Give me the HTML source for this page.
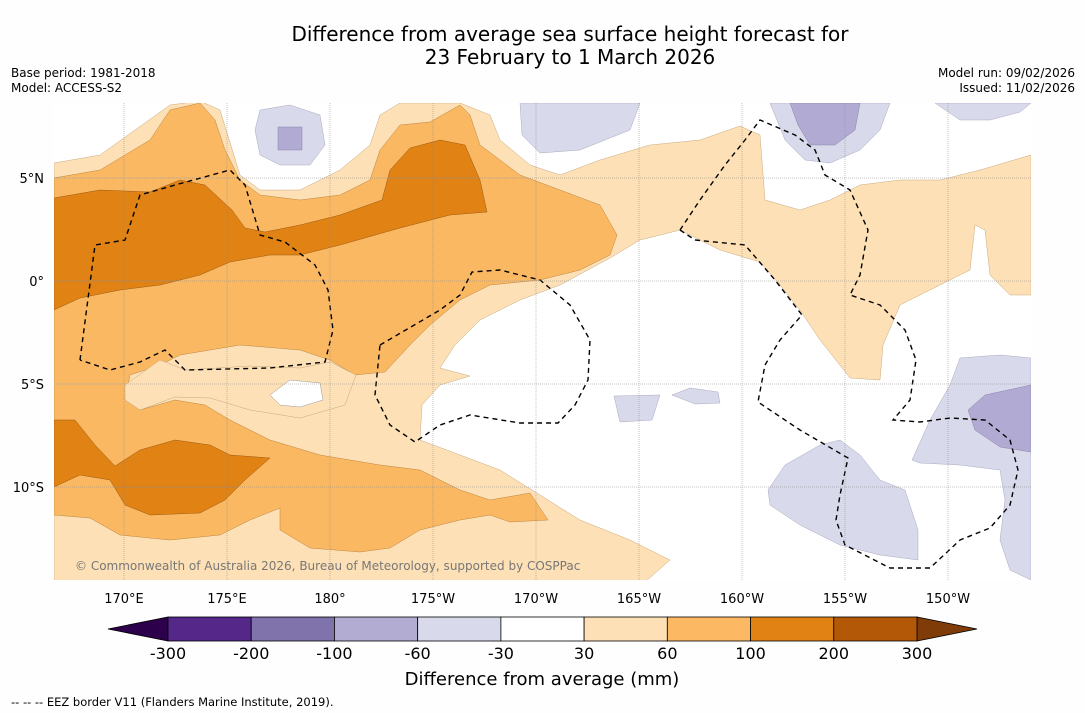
<!DOCTYPE html>
<html><head><meta charset="utf-8">
<style>
body{margin:0;background:#fff;font-family:"DejaVu Sans","Liberation Sans",sans-serif;}
svg{display:block}
</style></head>
<body>
<svg id="chart" width="1085" height="713" viewBox="0 0 1085 713" xmlns="http://www.w3.org/2000/svg" font-family="DejaVu Sans, Liberation Sans, sans-serif">
<rect x="0" y="0" width="1085" height="713" fill="#fefefe"/>
<text x="570" y="41" font-size="20" text-anchor="middle" fill="#000">Difference from average sea surface height forecast for</text>
<text x="570" y="64" font-size="20" text-anchor="middle" fill="#000">23 February to 1 March 2026</text>
<text x="11" y="77" font-size="12">Base period: 1981-2018</text>
<text x="11" y="92" font-size="12">Model: ACCESS-S2</text>
<text x="1075" y="77" font-size="12" text-anchor="end">Model run: 09/02/2026</text>
<text x="1075" y="92" font-size="12" text-anchor="end">Issued: 11/02/2026</text>
<defs><clipPath id="mapclip"><rect x="54" y="103" width="977" height="477"/></clipPath></defs>
<g id="map" clip-path="url(#mapclip)"></g>
<g id="axes"></g>
<g id="cbar"></g>
<text x="542" y="685" font-size="18" text-anchor="middle">Difference from average (mm)</text>
<text x="11" y="706" font-size="11.5">--  --  -- EEZ border V11 (Flanders Marine Institute, 2019).</text>
</svg>
<script>
// Axis tick data
const lonTicks = [170, 175, 180, 185, 190, 195, 200, 205, 210];
const lonLabels = ["170°E","175°E","180°","175°W","170°W","165°W","160°W","155°W","150°W"];
const latTicks = [5, 0, -5, -10];
const latLabels = ["5°N","0°","5°S","10°S"];
// Colorbar data
const cbarLevels = ["-300","-200","-100","-60","-30","30","60","100","200","300"];
const cbarColors = ["#542788","#8073ac","#b2abd2","#d8daeb","#ffffff","#fee0b6","#fdb863","#e08214","#b35806"];
const cbarUnder = "#2d004b", cbarOver = "#7f3b08";

const xLon = lon => 124 + (lon - 170) * 20.6;
const yLat = lat => 281 - lat * 20.6;
const NS = "http://www.w3.org/2000/svg";
function mk(tag, attrs, parent){const e=document.createElementNS(NS,tag);for(const k in attrs)e.setAttribute(k,attrs[k]);parent.appendChild(e);return e;}

// Contour shapes (map-space outlines)
const lightOrange = [[54,163],[100,155],[170,105],[200,101],[220,110],[240,175],[260,190],[300,190],[340,170],[370,145],[380,115],[400,103],[460,103],[490,115],[500,140],[530,165],[560,175],[600,160],[650,145],[700,140],[740,126],[760,135],[765,200],[800,210],[830,200],[860,185],[900,180],[940,180],[980,170],[1031,155],[1031,295],[1010,295],[990,275],[985,230],[975,225],[970,270],[940,285],[900,305],[883,345],[880,380],[850,378],[820,340],[800,310],[780,285],[760,262],[720,250],[680,230],[640,240],[610,258],[560,285],[520,300],[480,320],[455,345],[440,368],[470,376],[440,385],[422,405],[420,440],[460,455],[500,470],[540,495],[580,520],[630,540],[670,560],[645,582],[54,582]];
const midOrange = [[54,178],[100,170],[150,140],[170,110],[200,103],[215,120],[225,150],[240,180],[260,195],[300,200],[340,195],[370,180],[380,150],[400,125],[430,122],[460,105],[470,115],[480,145],[500,160],[520,175],[560,190],[600,205],[617,235],[610,255],[580,270],[540,280],[490,285],[460,300],[430,325],[410,345],[385,372],[355,375],[330,360],[300,350],[240,345],[180,355],[160,365],[130,375],[125,400],[140,410],[175,400],[205,405],[230,420],[270,440],[320,455],[380,465],[420,470],[460,490],[490,500],[530,493],[548,520],[510,522],[490,515],[460,520],[420,530],[390,548],[360,552],[310,548],[280,530],[280,508],[250,520],[220,535],[170,540],[120,535],[90,518],[54,515]];
const lightBlob = [[125,385],[160,360],[185,370],[250,366],[300,368],[330,362],[356,375],[345,405],[300,418],[250,410],[210,398],[175,397],[140,410],[125,400]];
const whiteHole = [[270,395],[290,380],[320,383],[323,400],[300,407],[280,405]];
const darkA = [[54,310],[80,298],[120,290],[160,285],[200,275],[230,262],[270,255],[300,255],[340,245],[400,228],[450,215],[487,212],[480,180],[465,145],[440,140],[410,148],[390,170],[382,200],[340,215],[300,225],[265,232],[245,228],[232,210],[205,185],[180,180],[150,192],[100,190],[54,198]];
const darkB = [[54,420],[75,420],[95,445],[115,466],[140,450],[175,440],[210,445],[230,455],[270,458],[245,480],[225,500],[200,513],[150,515],[125,505],[110,480],[80,475],[54,487]];
const lightPurple = [
 [[255,130],[260,110],[290,105],[320,115],[325,145],[310,165],[280,165],[260,155]],
 [[520,103],[640,103],[630,130],[605,140],[580,150],[540,153],[522,135]],
 [[770,103],[890,103],[880,130],[860,150],[830,163],[805,160],[785,140]],
 [[935,103],[1031,103],[1020,112],[990,120],[960,120]],
 [[614,396],[660,395],[652,420],[620,422]],
 [[672,395],[690,388],[718,392],[720,403],[695,404]],
 [[768,490],[785,465],[820,445],[840,440],[860,455],[880,480],[905,490],[918,530],[918,560],[880,555],[840,545],[800,525],[770,505]],
 [[912,460],[930,420],[950,385],[960,358],[1000,355],[1031,358],[1031,580],[1010,570],[1000,540],[1005,500],[1000,470],[960,465],[920,463]]
];
const midPurple = [
 [[278,127],[302,127],[302,150],[278,150]],
 [[790,103],[860,103],[855,130],[835,145],[810,145],[798,125]],
 [[968,410],[985,395],[1031,385],[1031,452],[1000,447],[975,430]]
];
const eezLines = [
 [[80,360],[95,245],[125,240],[140,195],[175,185],[230,170],[245,185],[260,235],[285,242],[315,265],[328,290],[333,330],[325,362],[270,368],[185,370],[165,350],[140,362],[110,370],[80,360]],
 [[380,345],[440,310],[460,295],[472,272],[500,270],[540,280],[570,305],[590,340],[588,380],[575,405],[558,423],[520,423],[470,415],[440,425],[415,442],[390,425],[375,395],[380,345]],
 [[680,230],[695,240],[745,245],[775,280],[802,315],[780,340],[765,365],[758,402],[800,430],[848,458],[840,495],[836,520],[845,545],[890,568],[930,568],[960,540],[990,528],[1010,505],[1018,470],[1010,440],[985,420],[950,418],[920,422],[893,420],[910,400],[916,360],[905,330],[880,305],[850,295],[860,275],[868,230],[850,190],[825,175],[815,150],[795,135],[760,120],[745,140],[725,165],[700,200],[680,230]]
];

const map = document.getElementById('map');
const pts = a => a.map(p => p.join(',')).join(' ');
let e;
e = mk('rect',{x:54,y:103,width:977,height:477,fill:'#ffffff'},map);


e = mk('polygon',{points:pts(lightOrange),fill:'#fde0b6',stroke:'#c9a97f','stroke-width':0.5},map);


e = mk('polygon',{points:pts(midOrange),fill:'#fbb863',stroke:'#b98640','stroke-width':0.5},map);


e = mk('polygon',{points:pts(lightBlob),fill:'#fde0b6',stroke:'#c9a97f','stroke-width':0.5},map);


e = mk('polygon',{points:pts(whiteHole),fill:'#ffffff',stroke:'#999','stroke-width':0.5},map);


[darkA, darkB].forEach(d => {
  const p = mk('polygon',{points:pts(d),fill:'#e08214',stroke:'#9a5a10','stroke-width':0.5},map);
  
  
});
lightPurple.forEach(d => {
  const p = mk('polygon',{points:pts(d),fill:'#d8d9ea',stroke:'#a9a9c0','stroke-width':0.5},map);
  
  
});
midPurple.forEach(d => {
  const p = mk('polygon',{points:pts(d),fill:'#b1aad2',stroke:'#8a84aa','stroke-width':0.5},map);
  
  
});
eezLines.forEach(d => {
  const p = mk('polyline',{points:pts(d),fill:'none',stroke:'#000','stroke-width':1.4,'stroke-dasharray':'5,4'},map);
  
  
});

// gridlines and ticks
const axes = document.getElementById('axes');
lonTicks.forEach((lon,i) => {
  const x = xLon(lon);
  const g = mk('line',{x1:x,y1:103,x2:x,y2:580,stroke:'#888','stroke-width':0.5,'stroke-dasharray':'1,1'},axes);
  
  
  const t = mk('text',{x:x,y:603,'font-size':13,'text-anchor':'middle'},axes);
  t.textContent = lonLabels[i];
  
  
});
latTicks.forEach((lat,i) => {
  const y = yLat(lat);
  const g = mk('line',{x1:54,y1:y,x2:1031,y2:y,stroke:'#888','stroke-width':0.5,'stroke-dasharray':'1,1'},axes);
  
  
  const t = mk('text',{x:44,y:y+5,'font-size':13,'text-anchor':'end'},axes);
  t.textContent = latLabels[i];
  
  
});
const cp = mk('text',{x:75,y:570,'font-size':12,fill:'#777'},axes);
cp.textContent = '© Commonwealth of Australia 2026, Bureau of Meteorology, supported by COSPPac';



// colorbar
const cbar = document.getElementById('cbar');
const cx0 = 168, cx1 = 917, cy = 617, ch = 24;
const bw = (cx1 - cx0) / cbarColors.length;
let u = mk('polygon',{points:`108,${cy+ch/2} ${cx0},${cy} ${cx0},${cy+ch}`,fill:cbarUnder,stroke:'#000','stroke-width':0.8},cbar);


let o = mk('polygon',{points:`977,${cy+ch/2} ${cx1},${cy} ${cx1},${cy+ch}`,fill:cbarOver,stroke:'#000','stroke-width':0.8},cbar);


cbarColors.forEach((c,i) => {
  const r = mk('rect',{x:cx0+i*bw,y:cy,width:bw,height:ch,fill:c,stroke:'#000','stroke-width':0.8},cbar);
  
  
});
cbarLevels.forEach((l,i) => {
  const t = mk('text',{x:cx0+i*bw,y:659,'font-size':16,'text-anchor':'middle'},cbar);
  t.textContent = l;
  
  
});
</script>
</body></html>
